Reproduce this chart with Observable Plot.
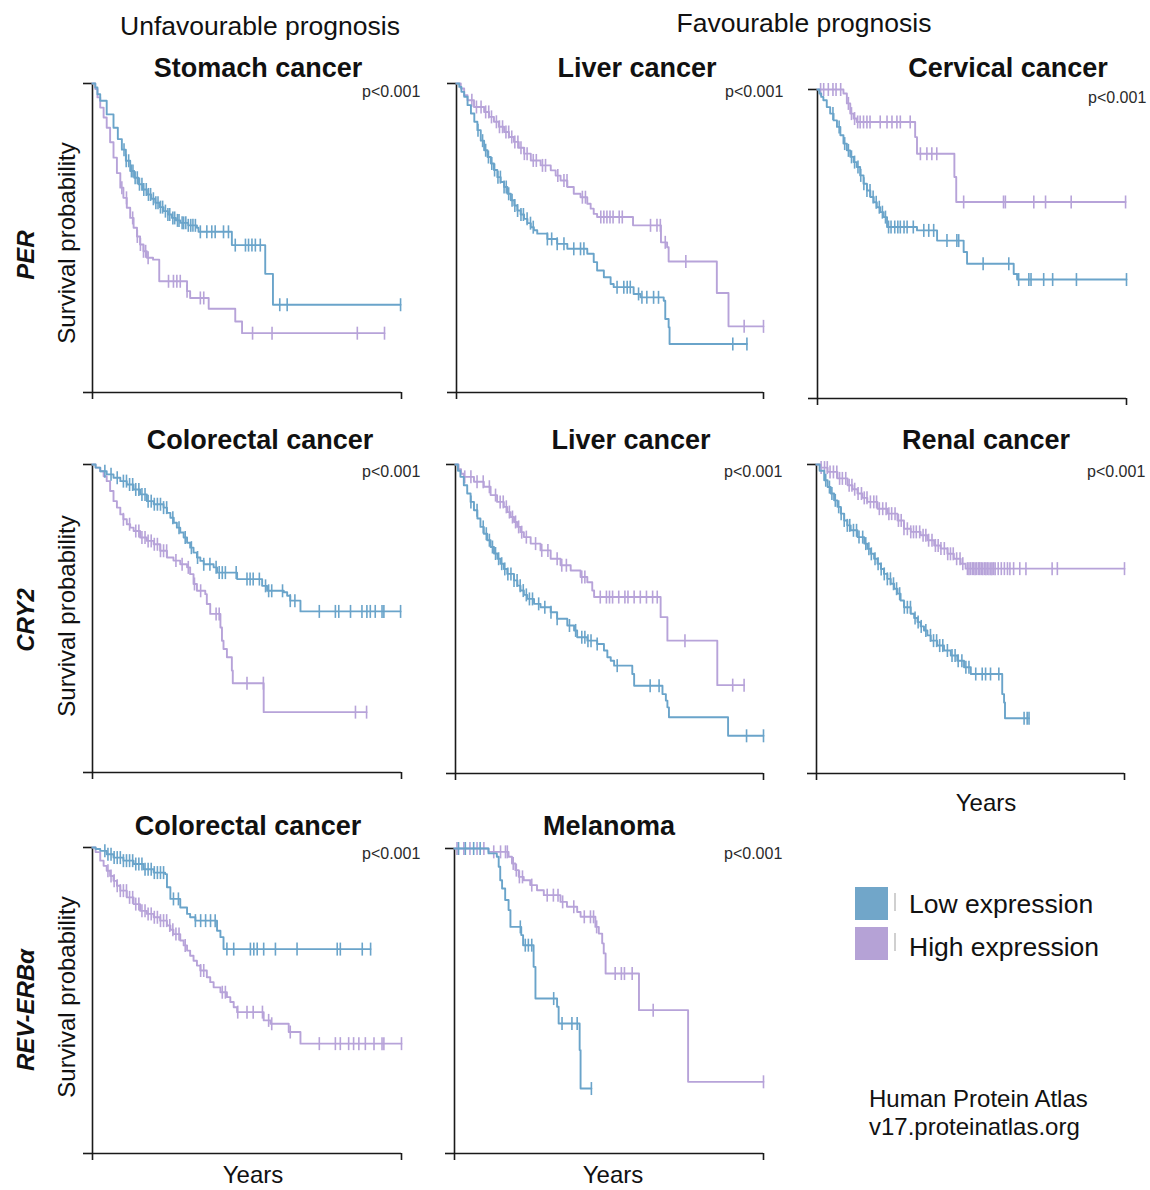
<!DOCTYPE html>
<html><head><meta charset="utf-8">
<script src="https://cdn.jsdelivr.net/npm/d3@7"></script>
<script src="https://cdn.jsdelivr.net/npm/@observablehq/plot@0.6"></script>
<style>
body{margin:0;background:#fff;font-family:"Liberation Sans",Arial,Helvetica,sans-serif;}
#root{position:relative;width:1150px;height:1190px;overflow:hidden;background:#fff;}
.t{position:absolute;white-space:nowrap;transform:translate(-50%,-50%);color:#111;line-height:1;}
.l{position:absolute;white-space:nowrap;transform:translateY(-50%);color:#111;line-height:1;}
.r{position:absolute;white-space:nowrap;transform:translate(-50%,-50%) rotate(-90deg);color:#111;line-height:1;}
.panel{position:absolute;}
</style></head>
<body><div id="root"></div>
<script>
// ---------- DATA (time in years, survival probability) ----------
const groups = ["Low expression", "High expression"];
const headers = ["Unfavourable prognosis", "Favourable prognosis"];
const genes = ["PER", "CRY2", "REV-ERBα"];
const titles = ["Stomach cancer","Liver cancer","Cervical cancer","Colorectal cancer","Liver cancer","Renal cancer","Colorectal cancer","Melanoma"];
const pLabel = "p<0.001";

// PER – Stomach
const stomachLow = [[0,1],[0.09,0.987],[0.16,0.965],[0.25,0.944],[0.46,0.90],[0.68,0.857],[0.82,0.82],[0.95,0.786],[1.08,0.75],[1.22,0.717],[1.35,0.695],[1.49,0.674],[1.62,0.657],[1.76,0.641],[1.9,0.627],[2.03,0.614],[2.17,0.6],[2.30,0.587],[2.44,0.576],[2.57,0.565],[2.70,0.557],[2.84,0.549],[3.1,0.541],[3.38,0.533],[3.43,0.52],[4.51,0.477],[5.59,0.384],[5.84,0.284]];
const stomachLowCensor = [1.02,1.09,1.17,1.26,1.31,1.38,1.45,1.52,1.6,1.66,1.74,1.81,1.88,1.97,2.05,2.12,2.2,2.27,2.36,2.44,2.5,2.6,2.66,2.75,2.8,2.9,2.95,3.02,3.1,3.18,3.25,3.33,3.49,3.70,3.86,3.97,4.24,4.40,4.62,4.95,5.05,5.16,5.27,5.43,6.06,6.30,9.97];
const stomachHigh = [[0,1],[0.09,0.982],[0.16,0.955],[0.25,0.922],[0.36,0.89],[0.46,0.857],[0.57,0.81],[0.68,0.760],[0.79,0.71],[0.90,0.663],[1.0,0.63],[1.11,0.598],[1.22,0.565],[1.33,0.533],[1.44,0.505],[1.54,0.479],[1.65,0.457],[1.76,0.436],[1.96,0.43],[2.16,0.36],[3.06,0.328],[3.16,0.306],[3.76,0.271],[4.62,0.230],[4.84,0.192]];
const stomachHighCensor = [0.95,1.1,1.3,1.45,1.55,1.65,1.72,1.8,2.46,2.62,2.73,2.84,3.06,3.49,3.6,5.18,5.81,8.57,9.45];

// PER – Liver
const liver1Low = [[0,1],[0.09,0.989],[0.16,0.973],[0.25,0.957],[0.36,0.93],[0.47,0.903],[0.58,0.876],[0.68,0.849],[0.79,0.815],[0.90,0.784],[1.01,0.762],[1.12,0.741],[1.22,0.72],[1.33,0.697],[1.44,0.681],[1.55,0.665],[1.66,0.643],[1.77,0.622],[1.88,0.605],[1.98,0.589],[2.09,0.576],[2.20,0.562],[2.31,0.548],[2.42,0.535],[2.52,0.525],[2.63,0.514],[2.96,0.497],[3.28,0.481],[3.61,0.465],[4.26,0.449],[4.47,0.422],[4.58,0.395],[4.80,0.373],[5.02,0.351],[5.12,0.341],[5.77,0.319],[5.99,0.308],[6.75,0.297],[6.80,0.238],[6.91,0.211],[6.94,0.157]];
const liver1LowCensor = [0.7,0.85,0.95,1.04,1.15,1.24,1.35,1.43,1.55,1.62,1.7,1.81,1.9,1.99,2.1,2.18,2.3,2.41,2.5,2.96,3.1,3.28,3.5,3.82,4.04,4.15,5.23,5.45,5.56,5.66,5.93,6.04,6.2,6.42,6.58,9.0,9.46];
const liver1High = [[0,1],[0.14,0.984],[0.25,0.962],[0.36,0.946],[0.57,0.924],[0.90,0.908],[1.06,0.892],[1.22,0.876],[1.38,0.86],[1.55,0.843],[1.71,0.827],[1.87,0.811],[2.03,0.792],[2.20,0.773],[2.42,0.751],[2.74,0.735],[3.07,0.719],[3.23,0.702],[3.39,0.686],[3.61,0.665],[3.82,0.643],[4.04,0.632],[4.26,0.611],[4.37,0.595],[4.47,0.578],[4.58,0.568],[5.75,0.541],[6.66,0.486],[6.86,0.470],[6.91,0.424],[8.48,0.322],[8.86,0.214]];
const liver1HighCensor = [0.5,0.65,0.8,0.95,1.05,1.14,1.3,1.4,1.5,1.61,1.7,1.8,1.9,2.0,2.1,2.21,2.3,2.5,2.6,2.8,2.9,3.3,3.5,3.6,4.1,4.2,4.7,4.8,4.9,5.0,5.1,5.3,5.4,6.32,6.53,6.64,6.8,7.47,9.37,10.0];

// PER – Cervical
const cervixLow = [[0,1],[0.06,0.987],[0.12,0.976],[0.19,0.965],[0.30,0.943],[0.41,0.922],[0.52,0.9],[0.63,0.879],[0.74,0.852],[0.84,0.825],[0.95,0.803],[1.06,0.782],[1.17,0.765],[1.27,0.749],[1.38,0.722],[1.49,0.695],[1.60,0.673],[1.71,0.652],[1.82,0.635],[1.92,0.619],[2.03,0.603],[2.14,0.587],[2.25,0.555],[3.22,0.544],[3.87,0.511],[4.73,0.474],[4.84,0.436],[6.35,0.403],[6.46,0.385]];
const cervixLowCensor = [0.5,0.7,0.88,1.0,1.1,1.2,1.31,1.4,1.5,1.6,1.7,1.8,1.9,2.0,2.1,2.2,2.3,2.38,2.5,2.6,2.68,2.8,2.9,3.1,3.44,3.6,3.76,4.19,4.51,4.57,5.36,6.19,6.51,6.84,6.91,7.32,7.61,8.38,10.0];
const cervixHigh = [[0,1],[0.84,0.987],[0.95,0.955],[1.06,0.922],[1.17,0.906],[1.27,0.895],[3.16,0.846],[3.22,0.792],[4.43,0.717],[4.49,0.636]];
const cervixHighCensor = [0.1,0.2,0.35,0.5,0.6,0.75,1.0,1.1,1.2,1.3,1.38,1.49,1.6,1.7,2.03,2.25,2.41,2.57,2.68,3.0,3.33,3.54,3.7,3.86,4.73,6.02,6.08,7.0,7.38,8.21,9.97];

// CRY2 – Colorectal
const colon1Low = [[0,1],[0.1,0.99],[0.25,0.978],[0.46,0.968],[0.68,0.957],[0.90,0.946],[1.11,0.935],[1.33,0.919],[1.54,0.903],[1.76,0.881],[1.98,0.871],[2.30,0.860],[2.41,0.843],[2.52,0.827],[2.63,0.811],[2.73,0.795],[2.84,0.779],[2.95,0.763],[3.06,0.746],[3.16,0.730],[3.27,0.714],[3.38,0.698],[3.49,0.687],[3.60,0.676],[3.92,0.666],[4.03,0.649],[4.68,0.628],[5.49,0.606],[5.65,0.590],[6.19,0.585],[6.30,0.574],[6.40,0.558],[6.73,0.523]];
const colon1LowCensor = [0.4,0.6,0.8,1.0,1.1,1.2,1.3,1.4,1.5,1.6,1.7,1.8,1.9,2.0,2.1,2.2,2.3,2.4,2.6,2.8,3.0,3.2,3.4,3.6,3.8,4.0,4.1,4.2,4.3,4.65,5.0,5.1,5.2,5.4,5.6,5.7,5.8,6.15,6.4,6.55,7.34,7.86,7.97,8.35,8.72,8.88,8.99,9.15,9.37,9.43,9.97];
const colon1High = [[0,1],[0.1,0.99],[0.25,0.978],[0.36,0.962],[0.46,0.946],[0.57,0.914],[0.68,0.881],[0.79,0.86],[0.90,0.838],[1.0,0.822],[1.11,0.806],[1.22,0.795],[1.33,0.784],[1.54,0.763],[1.76,0.752],[1.98,0.741],[2.19,0.720],[2.41,0.698],[2.62,0.688],[2.84,0.676],[3.06,0.666],[3.16,0.644],[3.27,0.612],[3.38,0.590],[3.65,0.579],[3.70,0.547],[3.81,0.515],[4.14,0.471],[4.19,0.428],[4.24,0.401],[4.35,0.374],[4.51,0.331],[4.54,0.290],[5.54,0.196]];
const colon1HighCensor = [1.0,1.2,1.4,1.5,1.6,1.7,1.8,1.9,2.0,2.1,2.2,2.3,2.4,2.7,2.9,3.1,3.3,3.5,4.0,4.1,5.0,5.53,8.51,8.87];

// CRY2 – Liver
const liver2Low = [[0,1],[0.08,0.98],[0.16,0.960],[0.27,0.933],[0.38,0.906],[0.49,0.879],[0.60,0.852],[0.71,0.825],[0.81,0.798],[0.92,0.776],[1.03,0.755],[1.14,0.733],[1.25,0.712],[1.36,0.695],[1.46,0.679],[1.57,0.662],[1.68,0.646],[1.90,0.625],[2.01,0.608],[2.11,0.592],[2.22,0.578],[2.33,0.565],[2.55,0.549],[2.76,0.538],[3.09,0.522],[3.30,0.501],[3.63,0.479],[3.85,0.463],[3.95,0.441],[4.28,0.430],[4.60,0.419],[4.82,0.398],[4.93,0.376],[5.04,0.365],[5.15,0.349],[5.74,0.322],[5.80,0.284],[6.72,0.257],[6.83,0.236],[6.88,0.214],[6.93,0.182],[8.85,0.122]];
const liver2LowCensor = [0.5,0.7,0.9,1.0,1.1,1.2,1.3,1.4,1.5,1.6,1.7,1.8,1.9,2.0,2.1,2.2,2.3,2.4,2.5,2.7,2.9,3.1,3.3,3.7,3.9,4.1,4.2,4.3,4.4,4.6,5.25,6.32,6.61,9.45,10.0];
const liver2High = [[0,1],[0.1,0.985],[0.18,0.97],[0.27,0.960],[0.60,0.944],[0.92,0.928],[1.14,0.901],[1.35,0.879],[1.57,0.863],[1.68,0.846],[1.79,0.830],[1.90,0.814],[2.00,0.798],[2.11,0.781],[2.22,0.765],[2.44,0.744],[2.76,0.722],[3.09,0.695],[3.41,0.674],[3.74,0.657],[4.06,0.636],[4.28,0.619],[4.44,0.592],[4.50,0.571],[6.66,0.506],[6.88,0.430],[8.50,0.286]];
const liver2HighCensor = [0.3,0.5,0.7,0.9,1.1,1.3,1.45,1.55,1.65,1.75,1.85,1.95,2.05,2.15,2.3,2.6,2.8,3.0,3.3,3.45,3.6,4.1,4.2,4.7,4.9,5.0,5.1,5.3,5.5,5.6,5.8,6.0,6.2,6.4,6.55,7.45,9.0,9.37];

// CRY2 – Renal
const renalLow = [[0,1],[0.1,0.98],[0.25,0.949],[0.36,0.927],[0.46,0.906],[0.57,0.884],[0.68,0.863],[0.79,0.841],[0.90,0.819],[1.0,0.803],[1.11,0.787],[1.33,0.765],[1.55,0.744],[1.65,0.727],[1.76,0.711],[1.87,0.695],[1.98,0.679],[2.09,0.662],[2.19,0.646],[2.30,0.63],[2.41,0.614],[2.52,0.598],[2.63,0.582],[2.73,0.56],[2.84,0.538],[3.06,0.517],[3.17,0.503],[3.28,0.490],[3.38,0.476],[3.49,0.463],[3.60,0.447],[3.71,0.430],[3.92,0.414],[4.14,0.398],[4.36,0.382],[4.57,0.365],[4.79,0.344],[5.01,0.322],[6.03,0.257],[6.09,0.230],[6.12,0.179]];
const renalLowCensor = [0.3,0.42,0.5,0.61,0.72,0.8,0.9,1.0,1.08,1.2,1.3,1.38,1.5,1.6,1.7,1.78,1.9,2.0,2.1,2.2,2.3,2.4,2.5,2.6,2.7,2.85,2.95,3.05,3.2,3.3,3.4,3.55,3.7,3.8,3.9,4.0,4.1,4.25,4.4,4.5,4.6,4.72,4.85,4.95,5.17,5.38,5.49,5.65,5.92,6.74,6.84,6.90];
const renalHigh = [[0,1],[0.15,0.99],[0.36,0.976],[0.68,0.955],[1.01,0.933],[1.17,0.92],[1.33,0.906],[1.49,0.892],[1.65,0.879],[1.98,0.857],[2.30,0.841],[2.63,0.819],[2.84,0.792],[3.06,0.782],[3.38,0.771],[3.60,0.755],[3.82,0.738],[4.03,0.728],[4.25,0.711],[4.46,0.695],[4.68,0.679],[4.84,0.663]];
const renalHighCensor = [0.15,0.26,0.35,0.44,0.55,0.66,0.75,0.84,0.95,1.06,1.15,1.24,1.35,1.46,1.55,1.64,1.75,1.86,1.95,2.04,2.15,2.26,2.35,2.44,2.55,2.66,2.75,2.84,2.95,3.06,3.15,3.24,3.35,3.46,3.55,3.64,3.75,3.86,3.95,4.04,4.15,4.26,4.35,4.44,4.55,4.66,4.75,4.9,4.95,5.0,5.06,5.1,5.15,5.2,5.26,5.3,5.35,5.4,5.46,5.5,5.55,5.6,5.66,5.7,5.75,5.8,5.9,6.0,6.1,6.2,6.28,6.4,6.6,6.8,7.65,7.82,10.0];

// REV-ERBα – Colorectal
const colon2Low = [[0,1],[0.1,0.995],[0.25,0.989],[0.46,0.978],[0.68,0.967],[1.00,0.957],[1.33,0.946],[1.65,0.929],[1.98,0.918],[2.35,0.913],[2.41,0.870],[2.52,0.832],[2.84,0.804],[3.06,0.783],[3.16,0.772],[3.33,0.761],[4.03,0.728],[4.14,0.707],[4.24,0.668]];
const colon2LowCensor = [0.4,0.5,0.6,0.7,0.8,0.9,1.0,1.1,1.2,1.3,1.4,1.5,1.6,1.7,1.8,1.9,2.0,2.1,2.2,2.3,2.62,2.78,3.33,3.5,3.66,3.82,3.97,4.35,4.57,5.11,5.22,5.33,5.54,5.92,6.62,7.92,8.02,8.73,9.0];
const colon2High = [[0,1],[0.1,0.985],[0.25,0.957],[0.36,0.94],[0.46,0.924],[0.57,0.907],[0.68,0.891],[0.79,0.875],[0.90,0.859],[1.11,0.837],[1.33,0.815],[1.54,0.793],[1.76,0.783],[1.98,0.772],[2.19,0.761],[2.41,0.745],[2.52,0.731],[2.62,0.717],[2.84,0.696],[2.95,0.68],[3.06,0.663],[3.16,0.646],[3.27,0.630],[3.38,0.614],[3.49,0.598],[3.70,0.576],[3.81,0.56],[3.92,0.543],[4.14,0.527],[4.35,0.511],[4.46,0.495],[4.57,0.478],[4.68,0.462],[5.54,0.435],[5.76,0.424],[6.35,0.397],[6.73,0.359]];
const colon2HighCensor = [0.5,0.6,0.7,0.8,0.9,1.0,1.1,1.2,1.3,1.4,1.5,1.6,1.7,1.8,1.9,2.0,2.1,2.2,2.3,2.4,2.5,2.6,2.7,2.8,3.0,3.5,3.6,4.2,4.3,4.7,5.0,5.2,5.5,5.7,5.8,6.4,7.34,7.86,8.02,8.29,8.45,8.62,8.83,9.11,9.37,9.43,10.0];

// REV-ERBα – Melanoma
const melanomaLow = [[0,1],[1.10,0.984],[1.37,0.973],[1.43,0.940],[1.48,0.896],[1.54,0.869],[1.64,0.831],[1.75,0.798],[1.81,0.743],[2.16,0.716],[2.22,0.683],[2.56,0.612],[2.62,0.508],[3.32,0.481],[3.37,0.426],[4.05,0.339],[4.08,0.213]];
const melanomaLowCensor = [0.13,0.35,0.62,0.83,2.13,2.29,2.39,2.5,3.21,3.48,3.8,3.97,4.43];
const melanomaHigh = [[0,1],[1.10,0.989],[1.75,0.973],[1.86,0.951],[1.97,0.929],[2.08,0.907],[2.24,0.896],[2.45,0.880],[2.67,0.863],[2.89,0.847],[3.43,0.825],[3.64,0.809],[3.97,0.792],[4.08,0.776],[4.56,0.743],[4.67,0.721],[4.78,0.689],[4.83,0.656],[4.89,0.590],[5.97,0.470],[7.56,0.235]];
const melanomaHighCensor = [0.08,0.3,0.5,0.73,0.95,1.27,1.49,1.65,1.71,1.9,2.0,2.1,2.2,2.5,3.0,3.2,3.35,3.5,3.86,4.2,4.4,4.5,4.6,5.2,5.4,5.5,5.75,6.43,10.0];

// ---------- LAYOUT ----------
const LOW = "#6aa4ca", HIGH = "#b7a3d9";
const AX = "#1a1a1a";
const series = [
  [stomachLow, stomachLowCensor, stomachHigh, stomachHighCensor],
  [liver1Low, liver1LowCensor, liver1High, liver1HighCensor],
  [cervixLow, cervixLowCensor, cervixHigh, cervixHighCensor],
  [colon1Low, colon1LowCensor, colon1High, colon1HighCensor],
  [liver2Low, liver2LowCensor, liver2High, liver2HighCensor],
  [renalLow, renalLowCensor, renalHigh, renalHighCensor],
  [colon2Low, colon2LowCensor, colon2High, colon2HighCensor],
  [melanomaLow, melanomaLowCensor, melanomaHigh, melanomaHighCensor]
];
// frame: [x0, x1, yTop, yBottom]; title centre; p-value left/centre
const boxes = [[92,401,83,392],[456,763,83,392],[817,1126,89,398],[92,401,464,772],[455,763,464,773],[816,1124,464,773],[92,401,847,1153],[454,763,848,1153]];
const titlePos = [[258,68],[637,68],[1008,68],[260,440],[631,440],[986,440],[248,826],[609,826]];
const pPos = [[362,92],[725,92],[1088,98],[362,472],[724,472],[1087,472],[362,854],[724,854]];

const root = document.getElementById("root");
function addText(cls, txt, x, y, style) {
  const d = document.createElement("div");
  d.className = cls; d.textContent = txt;
  d.style.left = x + "px"; d.style.top = y + "px";
  Object.assign(d.style, style || {});
  root.appendChild(d);
  return d;
}

const bar = { draw(ctx, size) { const r = Math.sqrt(size / Math.PI); ctx.moveTo(0, -r); ctx.lineTo(0, r); } };

function rows(steps, censor) {
  const end = Math.max(steps[steps.length - 1][0], ...censor);
  const line = steps.map(([t, s]) => ({t, s}));
  line.push({t: end, s: steps[steps.length - 1][1]});
  const ticks = censor.map(t => { let s = 1; for (const [tt, ss] of steps) if (tt <= t) s = ss; return {t, s}; });
  return {line, ticks};
}

const ml = 14, mr = 10, mt = 10, mb = 14;
series.forEach((sr, i) => {
  const [x0, x1, yt, yb] = boxes[i];
  const lo = rows(sr[0], sr[1]), hi = rows(sr[2], sr[3]);
  const chart = Plot.plot({
    width: (x1 - x0) + ml + mr, height: (yb - yt) + mt + mb,
    marginLeft: ml, marginRight: mr, marginTop: mt, marginBottom: mb,
    x: {domain: [0, 10], label: null},
    y: {domain: [0, 1], label: null},
    style: {background: "transparent", overflow: "visible"},
    marks: [
      Plot.ruleX([0], {stroke: AX, strokeWidth: 1.6}),
      Plot.ruleY([0], {stroke: AX, strokeWidth: 1.6}),
      Plot.axisY({ticks: [0, 1], tickSize: 9, tickFormat: () => "", stroke: AX, strokeWidth: 1.6, label: null}),
      Plot.axisX({ticks: [0, 10], tickSize: 7, tickFormat: () => "", stroke: AX, strokeWidth: 1.6, label: null}),
      Plot.line(hi.line, {x: "t", y: "s", curve: "step-after", stroke: HIGH, strokeWidth: 1.9}),
      Plot.dot(hi.ticks, {x: "t", y: "s", r: 6.5, symbol: bar, stroke: HIGH, fill: "none", strokeWidth: 1.6}),
      Plot.line(lo.line, {x: "t", y: "s", curve: "step-after", stroke: LOW, strokeWidth: 1.9}),
      Plot.dot(lo.ticks, {x: "t", y: "s", r: 6.5, symbol: bar, stroke: LOW, fill: "none", strokeWidth: 1.6})
    ]
  });
  const wrap = document.createElement("div");
  wrap.className = "panel";
  wrap.style.left = (x0 - ml) + "px"; wrap.style.top = (yt - mt) + "px";
  wrap.style.width = ((x1 - x0) + ml + mr) + "px";
  wrap.appendChild(chart);
  root.appendChild(wrap);
  addText("t", titles[i], titlePos[i][0], titlePos[i][1], {fontSize: "27px", fontWeight: "bold"});
  addText("l", pLabel, pPos[i][0], pPos[i][1], {fontSize: "16px", color: "#2a2a2a"});
});

// headers
addText("t", headers[0], 260, 26, {fontSize: "26.5px"});
addText("t", headers[1], 804, 23, {fontSize: "26.5px"});
// row labels
const geneY = [255, 620, 1010], survY = [243, 616, 997];
genes.forEach((g, i) => {
  addText("r", g, 26, geneY[i], {fontSize: "24px", fontWeight: "bold", fontStyle: "italic"});
  addText("r", "Survival probability", 67, survY[i], {fontSize: "24px"});
});
// x labels
addText("t", "Years", 986, 803, {fontSize: "24px"});
addText("t", "Years", 253, 1175, {fontSize: "24px"});
addText("t", "Years", 613, 1175, {fontSize: "24px"});
// legend
const legendColors = ["#71a6c9", "#b5a2d6"];
groups.forEach((g, i) => {
  const sq = document.createElement("div");
  Object.assign(sq.style, {position: "absolute", left: "855px", top: (887 + i * 40) + "px", width: "33px", height: "33px", background: legendColors[i]});
  root.appendChild(sq);
  const ln = document.createElement("div");
  Object.assign(ln.style, {position: "absolute", left: "894px", top: (893 + i * 40) + "px", width: "1.5px", height: "18px", background: "#d0d0d0"});
  root.appendChild(ln);
  addText("l", g, 909, 904 + i * 43, {fontSize: "26.5px"});
});
addText("l", "Human Protein Atlas", 869, 1099, {fontSize: "24px"});
addText("l", "v17.proteinatlas.org", 869, 1127, {fontSize: "24px"});
</script>
</body></html>
